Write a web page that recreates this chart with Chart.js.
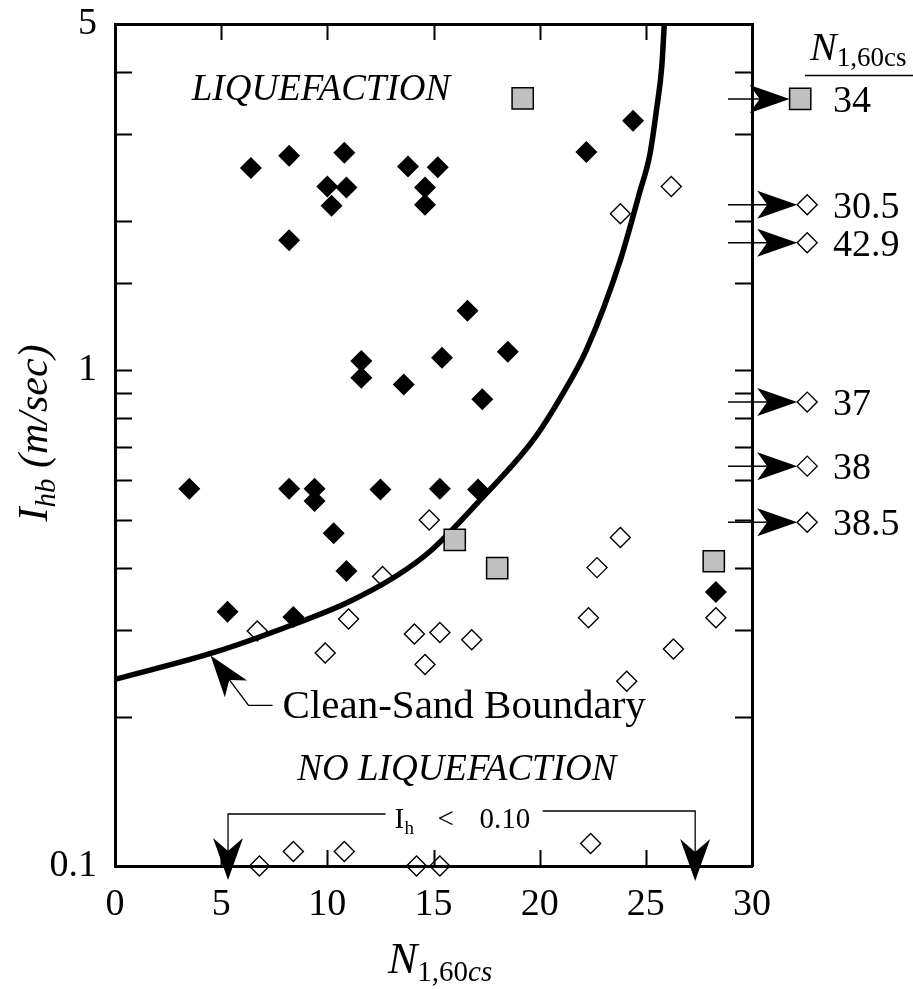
<!DOCTYPE html>
<html>
<head>
<meta charset="utf-8">
<script src="https://cdn.jsdelivr.net/npm/chart.js@4.4.1/dist/chart.umd.min.js"></script>
<style>
  html, body { margin: 0; padding: 0; background: #fff; }
  canvas { display: block; background: #fff; }
</style>
</head>
<body>
<canvas id="chart" width="913" height="989"></canvas>
<script>
// Values: N1,60cs on x, Ihb (m/sec) on a log y axis
const liqN   = [6.4, 8.2, 10.8, 10.0, 10.9, 10.2, 8.2, 13.8, 15.2, 14.6, 14.6, 24.4, 22.2, 16.6,
                11.6, 11.6, 13.6, 15.4, 18.5, 17.3, 3.5, 8.2, 9.4, 9.4, 12.5, 15.3, 17.1, 10.3,
                10.9, 5.3, 8.4, 28.3];
const liqIhb = [2.56, 2.71, 2.75, 2.35, 2.34, 2.15, 1.83, 2.58, 2.57, 2.34, 2.16, 3.19, 2.76, 1.32,
                1.045, 0.966, 0.937, 1.06, 1.09, 0.875, 0.577, 0.577, 0.577, 0.545, 0.575, 0.577, 0.575, 0.469,
                0.394, 0.326, 0.318, 0.357];

const noLiqN   = [26.2, 23.8, 14.8, 12.6, 23.8, 22.7, 6.7, 11.0, 9.9, 14.1, 15.3, 14.6, 16.8, 22.3,
                  28.3, 26.3, 24.1, 6.8, 8.4, 10.8, 14.2, 15.3, 22.4];
const noLiqIhb = [2.35, 2.07, 0.499, 0.384, 0.46, 0.40, 0.298, 0.315, 0.269, 0.294, 0.296, 0.255, 0.286, 0.317,
                  0.317, 0.274, 0.236, 0.1, 0.107, 0.107, 0.1, 0.1, 0.111];

const marginalN   = [19.2, 16.0, 18.0, 28.2];
const marginalIhb = [3.54, 0.455, 0.399, 0.412];

// clean-sand boundary curve
const boundaryN   = [0, 4.7, 8.3, 11.0, 13.3, 14.8, 17.2, 19.7, 21.1, 22.2, 23.8, 24.7, 25.2, 25.5, 25.75, 25.87];
const boundaryIhb = [0.238, 0.270, 0.306, 0.341, 0.386, 0.430, 0.548, 0.724, 0.899, 1.10, 1.67, 2.28, 2.74, 3.35, 4.10, 5.0];

// off-scale sites shown at the right edge (N1,60cs > 30)
const sideLabels = ['34', '30.5', '42.9', '37', '38', '38.5'];
const sideIhb    = [3.53, 2.16, 1.81, 0.863, 0.641, 0.494];
const sideKind   = ['square', 'diamond', 'diamond', 'diamond', 'diamond', 'diamond'];
const sideSquareN = 32.27;
const sideDiamondN = 32.6;

const xTicks = [0, 5, 10, 15, 20, 25, 30];
const yTickLabels = [0.1, 1, 5];

const FONT = "'Liberation Serif', 'Times New Roman', serif";

const markerStyle = {
  square:  { pointStyle: 'rect', radius: 15, fill: '#c0c0c0', borderWidth: 1.5, half: 10.6 },
  diamond: { pointStyle: 'rectRot', radius: 10, fill: '#fff', borderWidth: 1.4, half: 10 }
};

function pts(xs, ys) {
  return xs.map((x, i) => ({ x: x, y: ys[i] }));
}

function head(ctx, tipX, tipY, angle, len, half, notch) {
  ctx.save();
  ctx.translate(tipX, tipY);
  ctx.rotate(angle);
  ctx.beginPath();
  ctx.moveTo(0, 0);
  ctx.lineTo(-len, -half);
  ctx.lineTo(-len + notch, 0);
  ctx.lineTo(-len, half);
  ctx.closePath();
  ctx.fill();
  ctx.restore();
}

// tick marks pointing into the plot on all four sides
const inwardTicks = {
  id: 'inwardTicks',
  beforeDatasetsDraw(chart) {
    const ctx = chart.ctx, a = chart.chartArea;
    const xs = chart.scales.x, ys = chart.scales.y;
    ctx.save();
    ctx.strokeStyle = '#000';
    ctx.lineWidth = 2;
    ctx.beginPath();
    ys.ticks.forEach(t => {
      if (t.value <= 0.1001 || t.value >= 4.999) return;
      const py = Math.round(ys.getPixelForValue(t.value)) + 0.5;
      ctx.moveTo(a.left, py); ctx.lineTo(a.left + 17, py);
      ctx.moveTo(a.right, py); ctx.lineTo(a.right - 17, py);
    });
    xTicks.slice(1, -1).forEach(v => {
      const px = Math.round(xs.getPixelForValue(v)) + 0.5;
      ctx.moveTo(px, a.top); ctx.lineTo(px, a.top + 16);
      ctx.moveTo(px, a.bottom); ctx.lineTo(px, a.bottom - 16);
    });
    ctx.stroke();
    ctx.restore();
  }
};

const decor = {
  id: 'decor',
  afterDraw(chart) {
    const ctx = chart.ctx, a = chart.chartArea;
    const xs = chart.scales.x, ys = chart.scales.y;
    ctx.save();
    ctx.fillStyle = '#000';
    ctx.strokeStyle = '#000';

    // region labels
    ctx.font = 'italic 37px ' + FONT;
    ctx.textAlign = 'center';
    ctx.textBaseline = 'alphabetic';
    ctx.fillText('LIQUEFACTION', xs.getPixelForValue(9.7), ys.getPixelForValue(3.71) + 12);
    ctx.fillText('NO LIQUEFACTION', xs.getPixelForValue(16.1), ys.getPixelForValue(0.158) + 12);

    // clean-sand boundary callout
    ctx.font = '41px ' + FONT;
    ctx.textAlign = 'left';
    const tipX = xs.getPixelForValue(4.5), tipY = ys.getPixelForValue(0.266);
    ctx.fillText('Clean-Sand Boundary', tipX + 72, tipY + 63);
    ctx.lineWidth = 1.3;
    ctx.beginPath();
    ctx.moveTo(tipX + 62, tipY + 50);
    ctx.lineTo(tipX + 38, tipY + 50);
    ctx.lineTo(tipX + 14, tipY + 18);
    ctx.stroke();
    head(ctx, tipX, tipY, Math.atan2(-50, -38), 42, 14, 11);

    // Ih < 0.10 bracket
    const bx1 = xs.getPixelForValue(5.3), bx2 = xs.getPixelForValue(27.3);
    const by = a.bottom;
    ctx.lineWidth = 1.3;
    ctx.beginPath();
    ctx.moveTo(bx1 + 0.5, by - 8); ctx.lineTo(bx1 + 0.5, by - 52); ctx.lineTo(bx1 + 158, by - 52);
    ctx.moveTo(bx2 + 0.5, by - 8); ctx.lineTo(bx2 + 0.5, by - 55); ctx.lineTo(bx2 - 152, by - 55);
    ctx.stroke();
    head(ctx, bx1 + 0.5, by + 14, Math.PI / 2, 42, 15, 13);
    head(ctx, bx2 + 0.5, by + 15, Math.PI / 2, 42, 15, 13);
    ctx.font = '29px ' + FONT;
    ctx.fillText('I', bx1 + 167, by - 38);
    ctx.font = '19px ' + FONT;
    ctx.fillText('h', bx1 + 177, by - 32);
    ctx.font = '29px ' + FONT;
    ctx.fillText('<', bx1 + 210, by - 38);
    ctx.fillText('0.10', bx1 + 252, by - 38);

    // off-scale sites: arrow, marker, value
    sideIhb.forEach((v, i) => {
      const st = markerStyle[sideKind[i]];
      const py = ys.getPixelForValue(v);
      const mx = xs.getPixelForValue(sideKind[i] === 'square' ? sideSquareN : sideDiamondN);
      const tip = mx - st.half;
      ctx.lineWidth = 1.5;
      ctx.beginPath();
      ctx.moveTo(a.right - 24, py); ctx.lineTo(tip - 20, py);
      ctx.stroke();
      head(ctx, tip, py, 0, 40, 14, 10);
      ctx.fillStyle = st.fill;
      ctx.lineWidth = st.borderWidth;
      if (Chart.helpers && Chart.helpers.drawPoint) {
        Chart.helpers.drawPoint(ctx, { pointStyle: st.pointStyle, radius: st.radius, rotation: 0, borderWidth: st.borderWidth }, mx, py);
      }
      ctx.fillStyle = '#000';
      ctx.font = '38px ' + FONT;
      ctx.textAlign = 'left';
      ctx.fillText(sideLabels[i], 833, py + 13);
    });
    ctx.font = 'italic 40px ' + FONT;
    ctx.fillText('N', 810, 60);
    const nw = ctx.measureText('N').width;
    ctx.font = '27px ' + FONT;
    ctx.fillText('1,60cs', 810 + nw, 66);
    ctx.lineWidth = 1.5;
    ctx.beginPath();
    ctx.moveTo(805, 75.5); ctx.lineTo(913, 75.5);
    ctx.stroke();

    // x axis title N1,60cs
    let x = 388;
    ctx.font = 'italic 44px ' + FONT;
    ctx.fillText('N', x, 973);
    x += ctx.measureText('N').width;
    ctx.font = '29px ' + FONT;
    ctx.fillText('1,60', x, 981);
    x += ctx.measureText('1,60').width;
    ctx.font = 'italic 29px ' + FONT;
    ctx.fillText('cs', x, 981);

    // y axis title Ihb (m/sec)
    ctx.save();
    ctx.translate(33, 433);
    ctx.rotate(-Math.PI / 2);
    const parts = [
      ['I', 'italic 42px ', 0],
      ['hb', 'italic 29px ', 8],
      [' (m/sec)', 'italic 42px ', 0]
    ];
    let total = 0;
    parts.forEach(p => { ctx.font = p[1] + FONT; total += ctx.measureText(p[0]).width; });
    let cx = -total / 2;
    parts.forEach(p => {
      ctx.font = p[1] + FONT;
      ctx.fillText(p[0], cx, 14 + p[2]);
      cx += ctx.measureText(p[0]).width;
    });
    ctx.restore();

    ctx.restore();
  }
};

const axisBorder = { color: '#000', width: 3 };
const noGrid = { drawOnChartArea: false, drawTicks: false };
function noPad(s) { s.paddingTop = 0; s.paddingBottom = 0; s.paddingLeft = 0; s.paddingRight = 0; }

new Chart(document.getElementById('chart').getContext('2d'), {
  type: 'scatter',
  data: {
    datasets: [
      {
        label: 'Marginal',
        data: pts(marginalN, marginalIhb),
        pointStyle: 'rect', pointRadius: 15,
        backgroundColor: '#c0c0c0', borderColor: '#000', borderWidth: 1.5,
        clip: false, order: 1
      },
      {
        label: 'Liquefaction',
        data: pts(liqN, liqIhb),
        pointStyle: 'rectRot', pointRadius: 11,
        backgroundColor: '#000', borderColor: '#000', borderWidth: 0,
        clip: false, order: 2
      },
      {
        label: 'Clean-Sand Boundary',
        data: pts(boundaryN, boundaryIhb),
        showLine: true, pointRadius: 0,
        borderColor: '#000', borderWidth: 5.5,
        cubicInterpolationMode: 'monotone',
        order: 3
      },
      {
        label: 'No liquefaction',
        data: pts(noLiqN, noLiqIhb),
        pointStyle: 'rectRot', pointRadius: 10,
        backgroundColor: 'rgba(255,255,255,0)', borderColor: '#000', borderWidth: 1.4,
        clip: false, order: 4
      }
    ]
  },
  options: {
    responsive: false,
    animation: false,
    devicePixelRatio: 1,
    layout: { padding: { left: 0, top: 24, right: 161, bottom: 0 } },
    plugins: { legend: { display: false }, tooltip: { enabled: false } },
    scales: {
      x: {
        type: 'linear', position: 'bottom', min: 0, max: 30,
        ticks: { stepSize: 5, color: '#000', font: { family: FONT, size: 38 }, padding: 16, maxRotation: 0 },
        grid: noGrid, border: axisBorder,
        afterFit(s) { s.height = 123; noPad(s); }
      },
      x2: {
        type: 'linear', position: 'top', min: 0, max: 30,
        ticks: { display: false, stepSize: 5 },
        grid: noGrid, border: axisBorder,
        afterFit(s) { s.height = 0; noPad(s); }
      },
      y: {
        type: 'logarithmic', position: 'left', min: 0.1, max: 5,
        ticks: {
          autoSkip: false, color: '#000', font: { family: FONT, size: 38 }, padding: 18,
          callback: v => yTickLabels.some(t => Math.abs(t - v) < 1e-9) ? String(v) : ''
        },
        grid: noGrid, border: axisBorder,
        afterFit(s) { s.width = 115; noPad(s); }
      },
      y2: {
        type: 'logarithmic', position: 'right', min: 0.1, max: 5,
        ticks: { display: false },
        grid: noGrid, border: axisBorder,
        afterFit(s) { s.width = 0; noPad(s); }
      }
    }
  },
  plugins: [inwardTicks, decor]
});
</script>
</body>
</html>
